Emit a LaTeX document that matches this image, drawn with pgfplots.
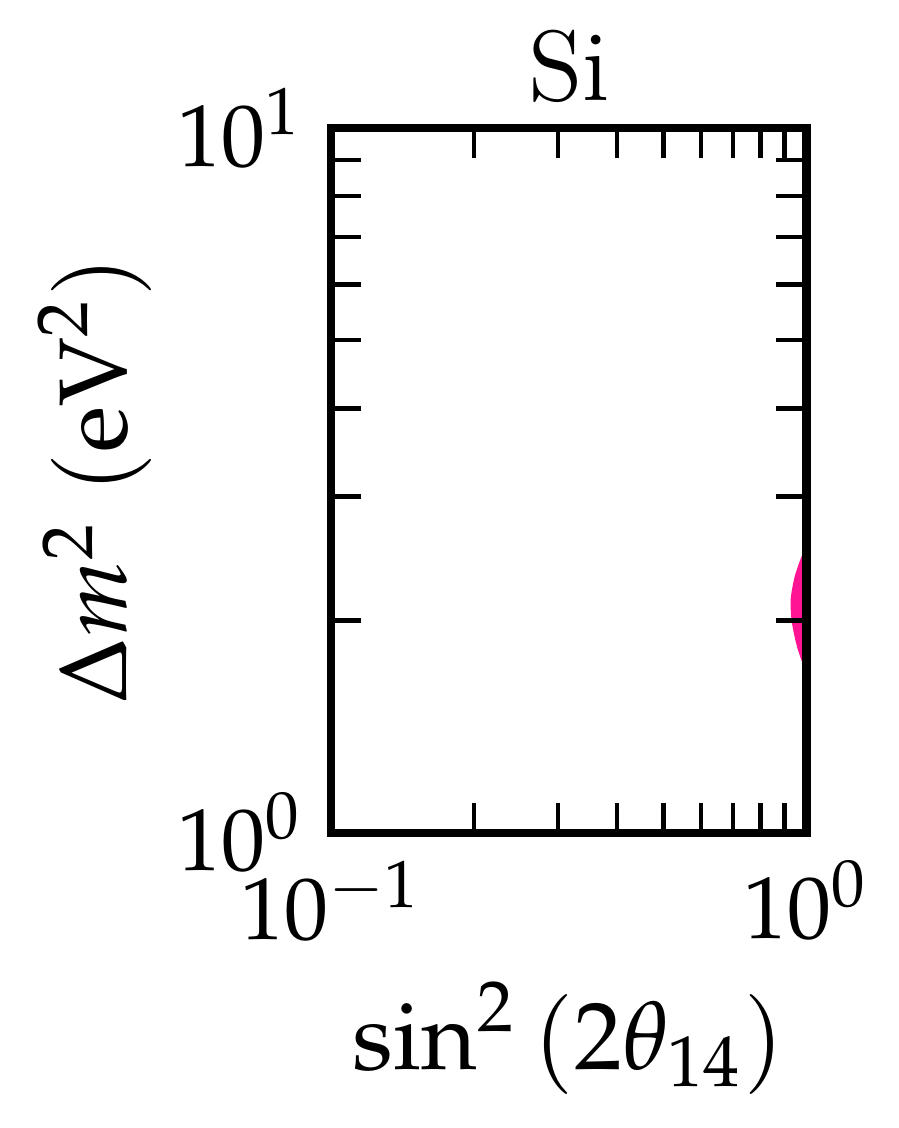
\documentclass[border=0pt]{standalone}
\usepackage{mathpazo}
\usepackage{pgfplots}
\pgfplotsset{compat=1.18}
\definecolor{dpink}{RGB}{255,20,147}
\begin{document}
\begin{tikzpicture}
\path[use as bounding box] (-41.4pt,-36.9pt) rectangle (70.9pt,104.1pt);
\begin{axis}[
  at={(0,0)}, anchor=south west,
  scale only axis, width=59.4pt, height=88.1pt,
  xmode=log, ymode=log,
  xmin=0.1, xmax=1, ymin=1, ymax=10,
  xtick={0.1,1}, ytick={1,10},
  minor xtick={0.2,0.3,0.4,0.5,0.6,0.7,0.8,0.9},
  minor ytick={2,3,4,5,6,7,8,9},
  tick align=inside, xtick pos=both, ytick pos=both,
  major tick length=3.75pt, minor tick length=3.75pt,
  every tick/.style={black, line width=0.55pt},
  axis line style={line width=1.05pt},
  axis on top,
  tick label style={font=\fontsize{11}{13}\selectfont},
  label style={font=\fontsize{12}{14}\selectfont},
  xlabel={$\sin^2\,(2\theta_{14})$},
  xlabel style={at={(axis description cs:0.5,-0.336)}, anchor=base},
  ylabel={$\Delta m^2\;(\mathrm{eV}^2)$},
  ylabel style={at={(axis description cs:-0.43,0.5)}, anchor=base, rotate=0},
  extra description/.code={
    \node[anchor=base, font=\fontsize{12.5}{14}\selectfont]
      at (axis description cs:0.5,1.0386) {Si};
  },
]
\addplot[fill=dpink, draw=none] coordinates {
  (1.0,2.58) (0.980,2.48) (0.962,2.40) (0.948,2.33) (0.939,2.27)
  (0.931,2.20) (0.926,2.141) (0.927,2.07) (0.930,2.005) (0.938,1.94)
  (0.948,1.875) (0.959,1.82) (0.971,1.775) (0.985,1.73) (1.0,1.68)
  (1.1,1.68) (1.1,2.58)
} -- cycle;
\end{axis}
\end{tikzpicture}
\end{document}
